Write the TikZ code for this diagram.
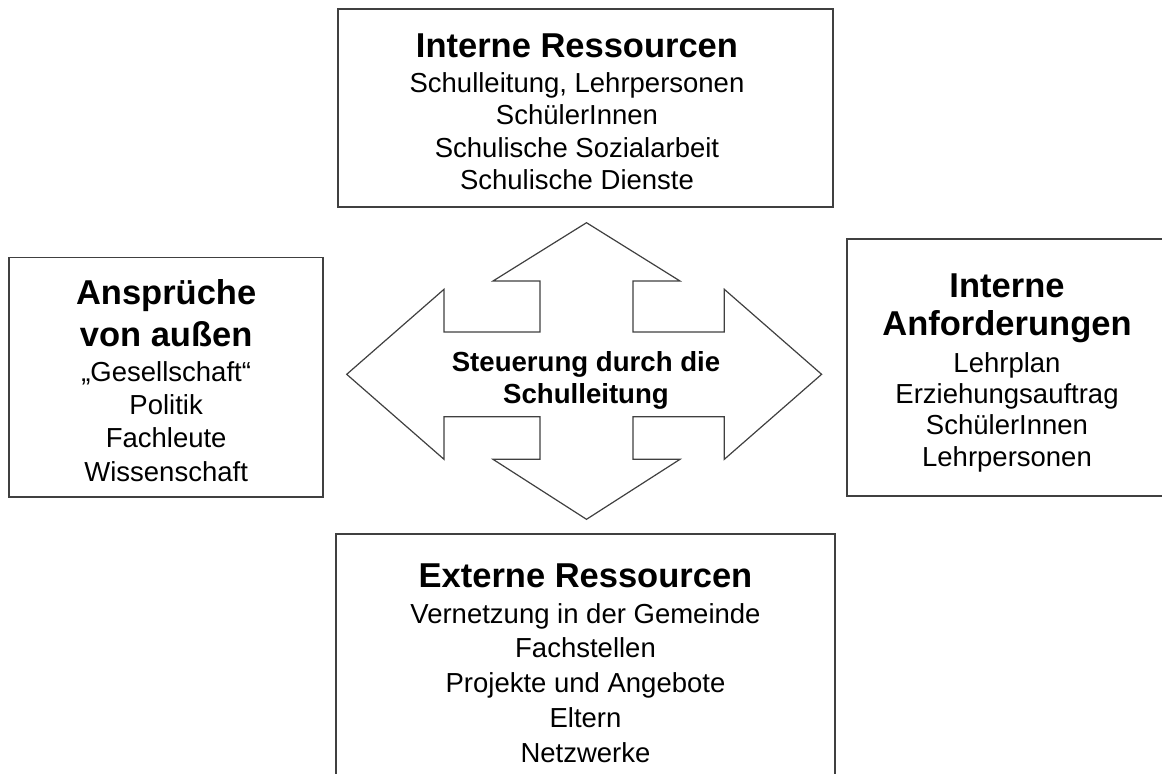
\documentclass[tikz,border=0pt]{standalone}
\usepackage{fontspec}
\setmainfont{Liberation Sans}
\newcommand\titlefnt{\fontsize{17.25}{20}\selectfont\bfseries}
\begin{document}
\begin{tikzpicture}[x=0.5pt,y=-0.5pt,
  box/.style={draw=black!75, line width=0.85pt, fill=white, inner sep=0pt, outer sep=0pt},
  txt/.style={align=center, inner sep=0pt, text=black},
  arrowshape/.style={draw=black!75, line width=0.6pt, fill=white, line join=miter}]
\useasboundingbox (0,0) rectangle (1162,773);

% boxes
\node[box, minimum width=247.5pt, minimum height=98.85pt] (topbox) at (585.5,108.15) {};
\node[box, minimum width=156.85pt, minimum height=119.75pt] (leftbox) at (166.15,377.25) {};
\node[box, minimum width=160pt, minimum height=128.5pt] (rightbox) at (1007,367.5) {};
\node[box, minimum width=249.5pt, minimum height=130.5pt] (bottombox) at (585.5,664.5) {};

% cross arrow
\draw[arrowshape] (586.5,222.7) -- (680,281) -- (633,281) -- (633,332) -- (724.3,332)
  -- (724.3,289.3) -- (821.6,374.3) -- (724.3,459.3) -- (724.3,416.7) -- (633,416.7)
  -- (633,459.3) -- (680,459.3) -- (586.5,519.3) -- (493,459.3) -- (540,459.3)
  -- (540,416.7) -- (444,416.7) -- (444,459.3) -- (346.7,374.3) -- (444,289.3)
  -- (444,332) -- (540,332) -- (540,281) -- (493,281) -- cycle;

% texts
\node[txt, font={\fontsize{13.75}{16.2}\selectfont\lineskiplimit=-50pt}] (toptext) at (577,112)
  {{\titlefnt Interne Ressourcen}\\[1pt]
   Schulleitung, Lehrpersonen\\
   SchülerInnen\\
   Schulische Sozialarbeit\\
   Schulische Dienste};

\node[txt, font={\fontsize{13.75}{16.7}\selectfont\lineskiplimit=-50pt}] (lefttext) at (166.15,380.5)
  {{\titlefnt Ansprüche}\\[4.1pt]
   {\titlefnt von außen}\\[0.8pt]
   „Gesellschaft“\\
   Politik\\
   Fachleute\\
   Wissenschaft};

\node[txt, font={\fontsize{13.75}{15.6}\selectfont\lineskiplimit=-50pt}] (righttext) at (1007,372.7)
  {{\titlefnt Interne}\\[3.6pt]
   {\titlefnt Anforderungen}\\[2.7pt]
   Lehrplan\\
   Erziehungsauftrag\\
   SchülerInnen\\
   Lehrpersonen};

\node[txt, font={\fontsize{13.75}{17.4}\selectfont\lineskiplimit=-50pt}] (bottomtext) at (585.5,662.9)
  {{\titlefnt Externe Ressourcen}\\[0.6pt]
   Vernetzung in der Gemeinde\\
   Fachstellen\\
   Projekte und Angebote\\
   Eltern\\
   Netzwerke};

\node[txt, font={\fontsize{13.8}{16.2}\selectfont\bfseries\lineskiplimit=-50pt}] (center) at (586,380.5)
  {Steuerung durch die\\ Schulleitung};
\end{tikzpicture}
\end{document}
